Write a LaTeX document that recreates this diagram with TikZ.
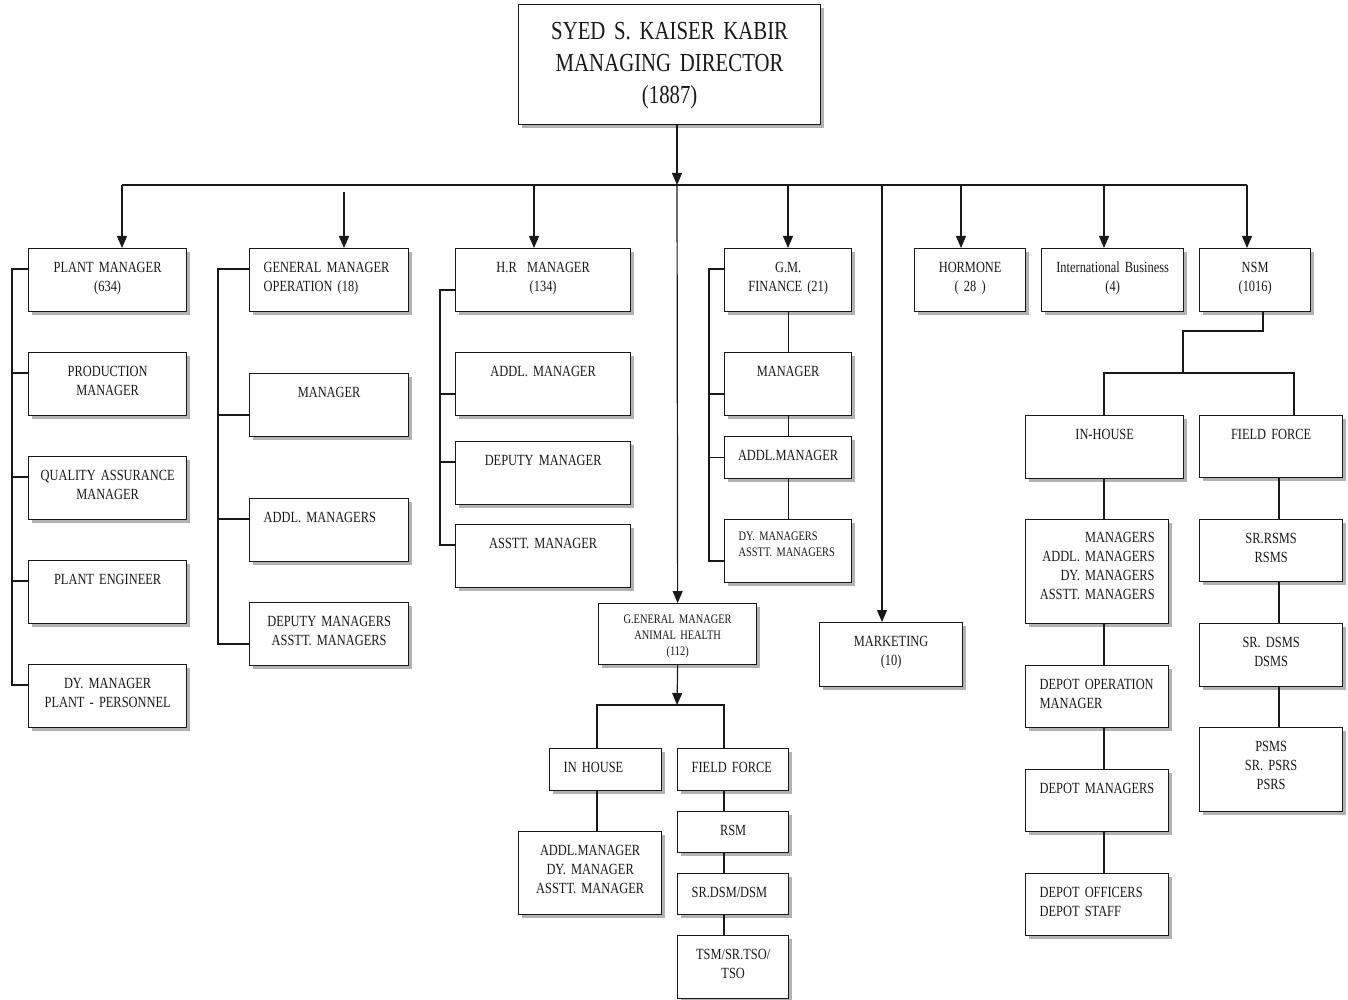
\documentclass[tikz,border=0pt]{standalone}
\usepackage{fontspec}
\setmainfont{Liberation Serif}[FakeStretch=0.8]
\usepackage{tikz}
\usetikzlibrary{arrows.meta, shadows}

\begin{document}
\begin{tikzpicture}[
    x=1pt, y=1pt,
    unit/.style={draw=black!90, fill=white, text=black!90, line width=1.3pt, inner ysep=0pt, inner xsep=4pt, text height=24pt, align=center, anchor=north west, font=\fontsize{15.5}{19}\selectfont, drop shadow={shadow xshift=3pt, shadow yshift=-3pt, fill=black!60}},
    lefttext/.style={align=left, inner xsep=14pt},
    small/.style={font=\fontsize{13}{16}\selectfont},
    title/.style={font=\fontsize{26}{32}\selectfont},
    link/.style={draw=black!90, line width=1.2pt},
    arrow/.style={link, -{Triangle[width=10pt, length=12pt]}}
]
    \useasboundingbox (0,0) rectangle (1348,-1000);

    % Nodes
    \node[unit, title, text width=294pt, text height=35pt, text depth=85pt] (md) at (518,-4) {SYED S. KAISER KABIR\\MANAGING DIRECTOR\\(1887)};

    \node[unit, text width=150pt, text depth=39pt] (pm) at (28,-248) {PLANT MANAGER\\(634)};
    \node[unit, text width=150pt, text depth=39pt] (prod) at (28,-352) {PRODUCTION\\MANAGER};
    \node[unit, text width=150pt, text depth=39pt] (qa) at (28,-456) {QUALITY ASSURANCE\\MANAGER};
    \node[unit, text width=150pt, text depth=39pt] (pe) at (28,-560) {PLANT ENGINEER};
    \node[unit, text width=150pt, text depth=39pt] (dyp) at (28,-664) {DY. MANAGER\\PLANT - PERSONNEL};

    \node[unit, lefttext, text width=131pt, text depth=39pt] (gmo) at (249,-248) {GENERAL MANAGER\\OPERATION (18)};
    \node[unit, text width=151pt, text depth=39pt] (opm) at (249,-373) {MANAGER};
    \node[unit, lefttext, text width=131pt, text depth=39pt] (opa) at (249,-498) {ADDL. MANAGERS};
    \node[unit, text width=151pt, text depth=39pt] (opd) at (249,-602) {DEPUTY MANAGERS\\ASSTT. MANAGERS};

    \node[unit, text width=167pt, text depth=39pt] (hr) at (455,-248) {H.R~ MANAGER\\(134)};
    \node[unit, text width=167pt, text depth=39pt] (hra) at (455,-352) {ADDL. MANAGER};
    \node[unit, text width=167pt, text depth=39pt] (hrd) at (455,-441) {DEPUTY MANAGER};
    \node[unit, text width=167pt, text depth=39pt] (hrs) at (455,-524) {ASSTT. MANAGER};

    \node[unit, text width=119pt, text depth=39pt] (fin) at (724,-248) {G.M.\\FINANCE (21)};
    \node[unit, text width=119pt, text depth=39pt] (finm) at (724,-352) {MANAGER};
    \node[unit, text width=119pt, text depth=18pt] (fina) at (724,-436) {ADDL.MANAGER};
    \node[unit, small, lefttext, text width=99pt, text height=21pt, text depth=42pt] (find) at (724,-519) {DY. MANAGERS\\ASSTT. MANAGERS};

    \node[unit, text width=103pt, text depth=39pt] (hor) at (914,-248) {HORMONE\\( 28 )};
    \node[unit, text width=134pt, text depth=39pt] (intl) at (1041,-248) {International Business\\(4)};
    \node[unit, text width=103pt, text depth=39pt] (nsm) at (1199,-248) {NSM\\(1016)};

    \node[unit, small, text width=150pt, text height=20pt, text depth=41pt] (gmah) at (598,-603) {G.ENERAL MANAGER\\ANIMAL HEALTH\\(112)};
    \node[unit, text width=135pt, text depth=40pt] (mkt) at (819,-622) {MARKETING\\(10)};

    \node[unit, lefttext, text width=84pt, text depth=18pt] (ahin) at (549,-748) {IN HOUSE};
    \node[unit, lefttext, text width=83pt, text depth=18pt] (ahff) at (677,-748) {FIELD FORCE};
    \node[unit, text width=135pt, text depth=59pt] (ahstaff) at (518,-831) {ADDL.MANAGER\\DY. MANAGER\\ASSTT. MANAGER};
    \node[unit, text width=103pt, text depth=17pt] (ahrsm) at (677,-811) {RSM};
    \node[unit, lefttext, text width=83pt, text depth=17pt] (ahdsm) at (677,-873) {SR.DSM/DSM};
    \node[unit, text width=103pt, text depth=39pt] (ahtsm) at (677,-935) {TSM/SR.TSO/\\TSO};

    \node[unit, text width=150pt, text depth=39pt] (ih) at (1025,-415) {IN-HOUSE};
    \node[unit, text width=135pt, text depth=38pt] (ff) at (1199,-415) {FIELD FORCE};
    \node[unit, align=right, inner xsep=14pt, text width=115pt, text height=23pt, text depth=81pt] (ihm) at (1025,-519) {MANAGERS\\ADDL. MANAGERS\\DY. MANAGERS\\ASSTT. MANAGERS};
    \node[unit, lefttext, text width=115pt, text depth=38pt] (dopm) at (1025,-665) {DEPOT OPERATION\\MANAGER};
    \node[unit, lefttext, text width=115pt, text depth=38pt] (dmgr) at (1025,-769) {DEPOT MANAGERS};
    \node[unit, lefttext, text width=115pt, text depth=38pt] (doff) at (1025,-873) {DEPOT OFFICERS\\DEPOT STAFF};
    \node[unit, text width=135pt, text depth=38pt] (ffr) at (1199,-519) {SR.RSMS\\RSMS};
    \node[unit, text width=135pt, text depth=39pt] (ffd) at (1199,-623) {SR. DSMS\\DSMS};
    \node[unit, text width=135pt, text depth=60pt] (ffp) at (1199,-727) {PSMS\\SR. PSRS\\PSRS};

    % Bus coordinates
    \coordinate (hub) at (677,-185);
    \coordinate (bplant) at (122,-185);
    \coordinate (boper) at (344,-192);
    \coordinate (bhr) at (534,-185);
    \coordinate (bfin) at (788,-185);
    \coordinate (bmkt) at (882,-185);
    \coordinate (bhor) at (961,-185);
    \coordinate (bintl) at (1104,-185);
    \coordinate (bnsm) at (1247,-185);

    % Arrows
    \draw[arrow] (md.south -| hub) -- (hub);
    \draw[link] (bplant) -- (bnsm);
    \foreach \b/\n in {bplant/pm, boper/gmo, bhr/hr, bfin/fin, bmkt/mkt, bhor/hor, bintl/intl, bnsm/nsm}
        \draw[arrow] (\b) -- (\b |- \n.north);
    \draw[arrow] (hub) -- (gmah.north);

    % Side brackets
    \draw[link] ([yshift=-21pt]pm.north west) -- ++(-16,0) |- ([yshift=-21pt]dyp.north west);
    \foreach \n in {prod, qa, pe}
        \draw[link] ([yshift=-21pt]\n.north west) -- ++(-16,0);

    \draw[link] ([yshift=-21pt]gmo.north west) -- ++(-31,0) |- ([yshift=-42pt]opd.north west);
    \draw[link] ([yshift=-42pt]opm.north west) -- ++(-31,0);
    \draw[link] ([yshift=-21pt]opa.north west) -- ++(-31,0);

    \draw[link] ([yshift=-42pt]hr.north west) -- ++(-15,0) |- ([yshift=-21pt]hrs.north west);
    \draw[link] ([yshift=-42pt]hra.north west) -- ++(-15,0);
    \draw[link] ([yshift=-21pt]hrd.north west) -- ++(-15,0);

    \draw[link] ([yshift=-21pt]fin.north west) -- ++(-15,0) |- ([yshift=-42pt]find.north west);
    \draw[link] ([yshift=-42pt]finm.north west) -- ++(-15,0);
    \draw[link] (fina.west) -- ++(-15,0);
    \foreach \a/\b in {fin/finm, finm/fina, fina/find}
        \draw[link] (\a.south) -- (\b.north);

    % Animal health
    \coordinate (ahbar) at (677,-705);
    \coordinate (ahl) at (597,-705);
    \coordinate (ahr) at (724,-705);
    \draw[arrow] (gmah.south) -- (ahbar);
    \draw[link] (ahl |- ahin.north) -- (ahl) -- (ahr) -- (ahr |- ahff.north);
    \draw[link] (ahl |- ahin.south) -- (ahl |- ahstaff.north);
    \foreach \a/\b in {ahff/ahrsm, ahrsm/ahdsm, ahdsm/ahtsm}
        \draw[link] (ahr |- \a.south) -- (ahr |- \b.north);

    % NSM
    \coordinate (nk) at (1263,-331);
    \coordinate (nm) at (1183,-373);
    \coordinate (nl) at (1104,-373);
    \coordinate (nr) at (1294,-373);
    \draw[link] (nk |- nsm.south) -- (nk) -| (nm);
    \draw[link] (nl |- ih.north) -- (nl) -- (nr) -- (nr |- ff.north);
    \coordinate (cl) at (1104,0);
    \coordinate (cr) at (1279,0);
    \foreach \a/\b in {ih/ihm, ihm/dopm, dopm/dmgr, dmgr/doff}
        \draw[link] (cl |- \a.south) -- (cl |- \b.north);
    \foreach \a/\b in {ff/ffr, ffr/ffd, ffd/ffp}
        \draw[link] (cr |- \a.south) -- (cr |- \b.north);

\end{tikzpicture}
\end{document}
